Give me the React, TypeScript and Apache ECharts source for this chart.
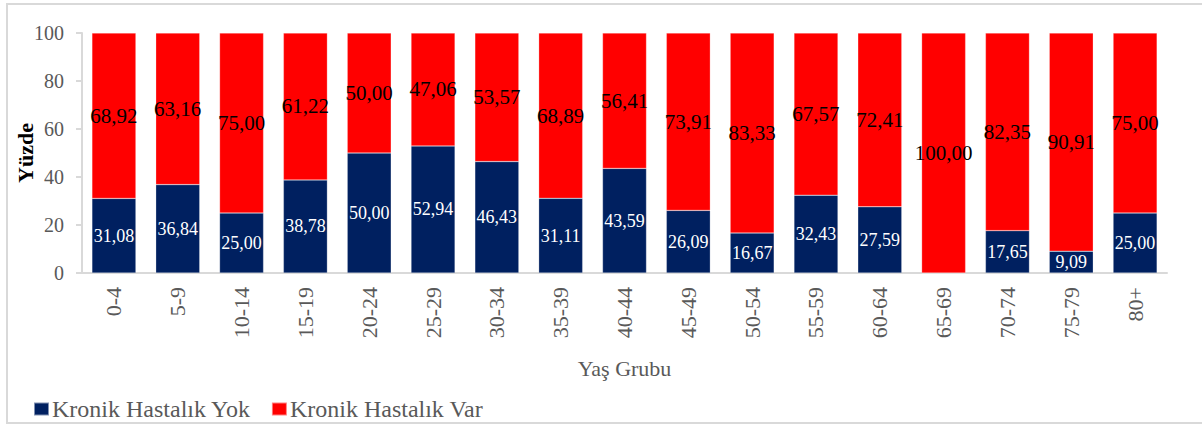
import React, { useEffect, useRef } from "react";
import * as echarts from "echarts";

const categories = ["0-4", "5-9", "10-14", "15-19", "20-24", "25-29", "30-34", "35-39", "40-44", "45-49", "50-54", "55-59", "60-64", "65-69", "70-74", "75-79", "80+"];
const yokValues = [31.08, 36.84, 25.0, 38.78, 50.0, 52.94, 46.43, 31.11, 43.59, 26.09, 16.67, 32.43, 27.59, 0, 17.65, 9.09, 25.0];
const varValues = [68.92, 63.16, 75.0, 61.22, 50.0, 47.06, 53.57, 68.89, 56.41, 73.91, 83.33, 67.57, 72.41, 100.0, 82.35, 90.91, 75.0];
const seriesNames = ["Kronik Hastalık Yok", "Kronik Hastalık Var"];
const yTicks = { min: 0, max: 100, interval: 20 };

const FONT = "Liberation Serif";
const fmt = (v: number) => v.toFixed(2).replace(".", ",");

export default function App() {
  const ref = useRef<HTMLDivElement>(null);
  useEffect(() => {
    if (!ref.current) return;
    const chart = echarts.init(ref.current, undefined, { renderer: "svg" });
    chart.setOption({
      animation: false,
      backgroundColor: "#ffffff",
      textStyle: { fontFamily: FONT },
      graphic: [
        {
          type: "rect",
          shape: { x: 7, y: 4, width: 1200, height: 419 },
          style: { fill: "none", stroke: "#d9d9d9", lineWidth: 2 },
          silent: true,
        },
      ],
      grid: { left: 82, right: 35, top: 33, bottom: 153, containLabel: false, outerBoundsMode: "none" },
      legend: {
        left: 28,
        top: 392,
        itemWidth: 15,
        itemHeight: 13,
        itemGap: 20,
        icon: "rect",
        textStyle: { fontFamily: FONT, fontSize: 24, color: "#595959", padding: [0, 0, 0, -2] },
        data: seriesNames,
      },
      xAxis: {
        type: "category",
        data: categories,
        name: "Yaş Grubu",
        nameLocation: "middle",
        nameGap: 84,
        nameMoveOverlap: false,
        nameTextStyle: { fontFamily: FONT, fontSize: 22, color: "#595959" },
        axisLine: { lineStyle: { color: "#d9d9d9", width: 2 } },
        axisTick: { show: false },
        axisLabel: { rotate: 90, margin: 14, fontFamily: FONT, fontSize: 22, color: "#595959", interval: 0 },
      },
      yAxis: {
        type: "value",
        min: yTicks.min,
        max: yTicks.max,
        interval: yTicks.interval,
        name: "Yüzde",
        nameLocation: "middle",
        nameGap: 46,
        nameMoveOverlap: false,
        nameTextStyle: { fontFamily: FONT, fontSize: 22, fontWeight: "bold", color: "#000000" },
        axisLine: { show: true, lineStyle: { color: "#d9d9d9", width: 2 } },
        axisTick: { show: true, length: 6, lineStyle: { color: "#d9d9d9", width: 2 } },
        splitLine: { show: false },
        axisLabel: { margin: 18, fontFamily: FONT, fontSize: 20, color: "#595959" },
      },
      series: [
        {
          name: seriesNames[0],
          type: "bar",
          stack: "total",
          barWidth: 44,
          data: yokValues,
          itemStyle: { color: "#002060", borderColor: "rgba(255,255,255,0.5)", borderWidth: 0.5 },
          label: {
            show: true,
            position: "inside",
            fontFamily: FONT,
            fontSize: 18,
            color: "#ffffff",
            formatter: (p: any) => (p.value > 0 ? fmt(p.value) : ""),
          },
        },
        {
          name: seriesNames[1],
          type: "bar",
          stack: "total",
          barWidth: 44,
          data: varValues,
          itemStyle: { color: "#ff0000", borderColor: "rgba(255,255,255,0.5)", borderWidth: 0.5 },
          label: {
            show: true,
            position: "inside",
            fontFamily: FONT,
            fontSize: 21,
            color: "#000000",
            formatter: (p: any) => fmt(p.value),
          },
        },
      ],
    });
    return () => chart.dispose();
  }, []);
  return <div ref={ref} style={{ position: "fixed", left: 0, top: 0, width: 1202, height: 426 }} />;
}
